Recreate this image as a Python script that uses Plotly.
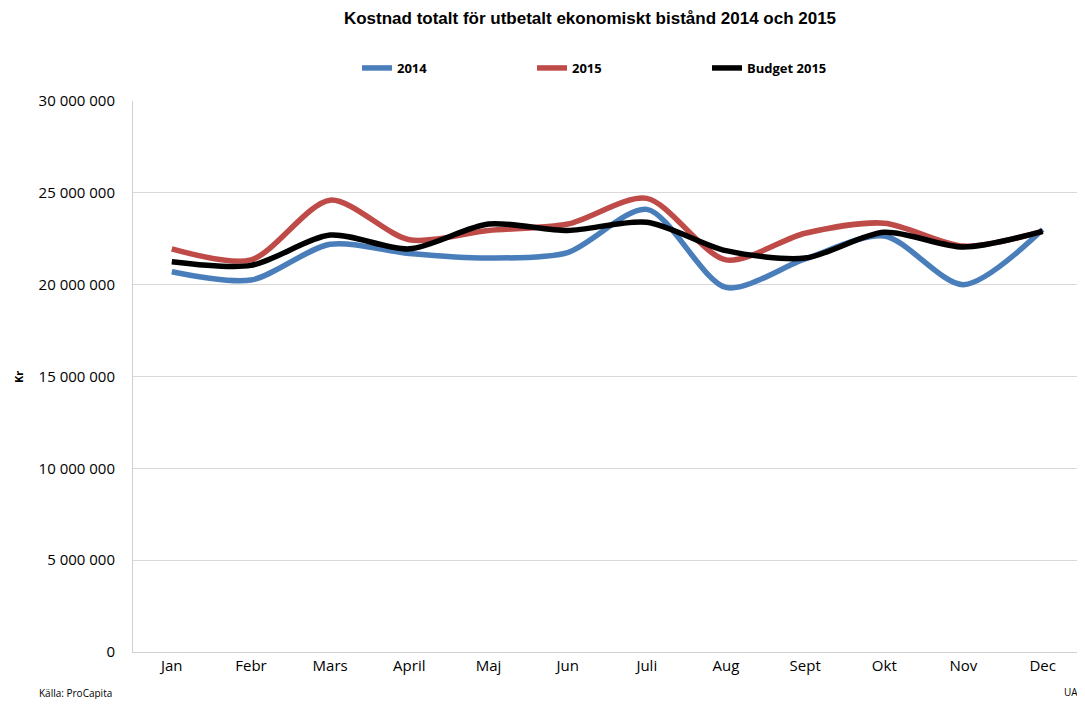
import plotly.graph_objects as go

months = ["Jan", "Febr", "Mars", "April", "Maj", "Jun", "Juli", "Aug", "Sept", "Okt", "Nov", "Dec"]
cost_2014 = [20.7e6, 20.25e6, 22.2e6, 21.7e6, 21.45e6, 21.75e6, 24.1e6, 19.85e6, 21.4e6, 22.65e6, 20.0e6, 23.0e6]
cost_2015 = [21.95e6, 21.35e6, 24.6e6, 22.45e6, 22.95e6, 23.3e6, 24.7e6, 21.35e6, 22.8e6, 23.35e6, 22.1e6, 22.9e6]
budget_2015 = [21.25e6, 21.05e6, 22.7e6, 21.95e6, 23.3e6, 22.95e6, 23.4e6, 21.85e6, 21.45e6, 22.85e6, 22.05e6, 22.9e6]
y_ticks = [0, 5e6, 10e6, 15e6, 20e6, 25e6, 30e6]

series = [
    ("2014", cost_2014, "#4a7ebb"),
    ("2015", cost_2015, "#be4b48"),
    ("Budget 2015", budget_2015, "#000000"),
]

# page body has an 8px margin: the figure starts at (8, 8) in the window
OFF = 8
W, H = 1085 - OFF, 707 - 2 * OFF
L = 133 - OFF
T = 101 - OFF
R = (OFF + W) - 1083
B = (OFF + H) - 652
plot_w = W - L - R
plot_h = H - T - B

def px_x(px):
    return (px - OFF - L) / plot_w

def px_y(py):
    return (H - B - (py - OFF)) / plot_h

fig = go.Figure()
for name, vals, col in series:
    fig.add_trace(go.Scatter(
        x=months, y=vals, name="<b>" + name + "</b>", mode="lines",
        line=dict(color=col, width=5.5, shape="spline", smoothing=0.8),
    ))

font_family = "Open Sans, Liberation Sans, Arial"
fig.update_layout(
    width=W, height=H,
    margin=dict(l=L, r=max(R, 0), t=T, b=B, autoexpand=False),
    plot_bgcolor="white", paper_bgcolor="white",
    separators=", ",
    title=dict(text="<b>Kostnad totalt för utbetalt ekonomiskt bistånd 2014 och 2015</b>",
               x=(590 - OFF) / W, xanchor="center", y=1 - (18 - OFF) / H, yanchor="middle",
               font=dict(family="Liberation Sans, Arial", size=17, color="black")),
    legend=dict(orientation="h", x=px_x(357), xanchor="left", y=px_y(68), yanchor="middle",
                font=dict(family=font_family, size=13, color="black"),
                entrywidth=130, itemwidth=30, bgcolor="rgba(0,0,0,0)"),
    showlegend=True,
    xaxis=dict(range=[-0.49, 11.51], showgrid=False, showline=True, linecolor="#d0d0d0",
               linewidth=1, ticks="", tickfont=dict(family=font_family, size=15, color="black"),
               automargin=False),
    yaxis=dict(range=[0, 30e6], tickvals=y_ticks, tickformat=",d", showgrid=True,
               gridcolor="#d9d9d9", gridwidth=1, showline=True, linecolor="#d0d0d0",
               zeroline=False, ticks="outside", ticklen=14, tickcolor="rgba(0,0,0,0)",
               tickfont=dict(family=font_family, size=15, color="black"),
               automargin=False),
    annotations=[
        dict(text="<b>Kr</b>", x=px_x(18), y=px_y(377), xref="paper", yref="paper",
             showarrow=False, textangle=-90, xanchor="center", yanchor="middle",
             font=dict(family=font_family, size=11, color="black")),
        dict(text="Källa: ProCapita", x=px_x(37), y=px_y(693), xref="paper", yref="paper",
             showarrow=False, xanchor="left", yanchor="middle",
             font=dict(family=font_family, size=10, color="black")),
        dict(text="UAK", x=px_x(1062), y=px_y(692), xref="paper", yref="paper",
             showarrow=False, xanchor="left", yanchor="middle",
             font=dict(family=font_family, size=10, color="black")),
    ],
)
fig.write_html("out.html")
